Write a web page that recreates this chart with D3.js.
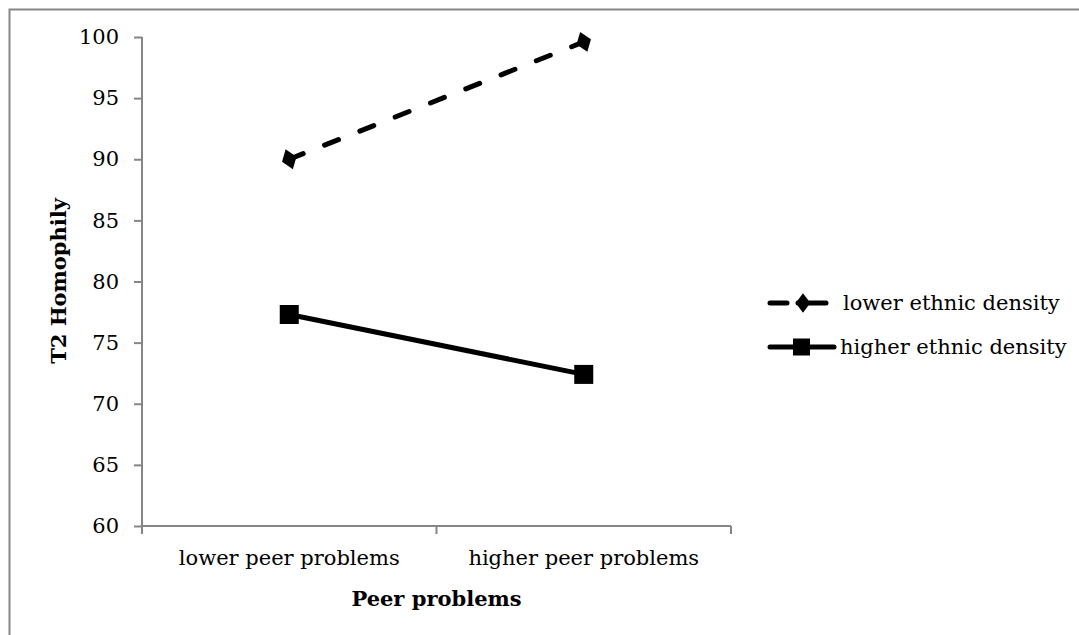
<!DOCTYPE html>
<html>
<head>
<meta charset="utf-8">
<script src="https://cdn.jsdelivr.net/npm/d3@7"></script>
<style>
  body { margin: 0; background: #fff; }
  svg text { font-family: "DejaVu Serif", "Liberation Serif", serif; }
</style>
</head>
<body>
<svg id="chart" width="1079" height="635"></svg>
<script>
// data
var categories = ["lower peer problems", "higher peer problems"];
var lowerDensity = [90.0, 99.6];
var higherDensity = [77.3, 72.4];
var seriesNames = ["lower ethnic density", "higher ethnic density"];
var yTicks = [60, 65, 70, 75, 80, 85, 90, 95, 100];

(function () {
  var svg = d3.select("#chart");
  var fontFamily = '"DejaVu Serif", "Liberation Serif", serif';
  var fontSize = "21px";

  // outer chart frame (runs off the bottom / right of the picture)
  svg.append("rect")
    .attr("x", 9.5).attr("y", 9.5)
    .attr("width", 1080).attr("height", 640)
    .attr("fill", "none")
    .attr("stroke", "#868686")
    .attr("stroke-width", 2);

  var plotLeft = 142, plotRight = 731, plotTop = 37, plotBottom = 526;

  var x = d3.scaleBand().domain(categories).range([plotLeft, plotRight]);
  var y = d3.scaleLinear().domain([60, 100]).range([plotBottom, plotTop]);

  var axisColor = "#868686";

  // y axis
  var yAxis = svg.append("g")
    .attr("transform", "translate(" + plotLeft + ",0)")
    .call(d3.axisLeft(y).tickValues(yTicks).tickSize(8).tickPadding(15));
  // x axis
  var xAxis = svg.append("g")
    .attr("transform", "translate(0," + plotBottom + ")")
    .call(d3.axisBottom(x).tickSize(0).tickPadding(24));

  [yAxis, xAxis].forEach(function (g) {
    g.selectAll("path").attr("stroke", axisColor).attr("stroke-width", 2);
    g.selectAll("line").attr("stroke", axisColor).attr("stroke-width", 2);
    g.selectAll("text").attr("fill", "#000").style("font-size", fontSize)
      .style("font-family", fontFamily);
  });
  yAxis.select(".domain").attr("d", "M0," + plotTop + "V" + plotBottom);
  xAxis.select(".domain").attr("d", "M" + plotLeft + ",0H" + plotRight);

  // category boundary ticks on x axis
  var bounds = [plotLeft, x(categories[1]), plotRight];
  svg.append("g").selectAll("line").data(bounds).enter().append("line")
    .attr("x1", d => d).attr("x2", d => d)
    .attr("y1", plotBottom).attr("y2", plotBottom + 8)
    .attr("stroke", axisColor).attr("stroke-width", 2);

  var cx = c => x(c) + x.bandwidth() / 2;

  var line = d3.line()
    .x((d, i) => cx(categories[i]))
    .y(d => y(d));

  // lower ethnic density (dashed, diamonds)
  svg.append("path")
    .datum(lowerDensity)
    .attr("d", line)
    .attr("fill", "none")
    .attr("stroke", "#000")
    .attr("stroke-width", 5)
    .attr("stroke-linecap", "round")
    .attr("stroke-dasharray", "15,23");

  var diamond = d3.symbol().type(d3.symbolDiamond).size(130);
  svg.append("g").selectAll("path").data(lowerDensity).enter().append("path")
    .attr("d", diamond)
    .attr("transform", (d, i) => "translate(" + cx(categories[i]) + "," + y(d) + ") rotate(-20) scale(1.25,1)")
    .attr("fill", "#000");

  // higher ethnic density (solid, squares)
  svg.append("path")
    .datum(higherDensity)
    .attr("d", line)
    .attr("fill", "none")
    .attr("stroke", "#000")
    .attr("stroke-width", 5);

  svg.append("g").selectAll("rect").data(higherDensity).enter().append("rect")
    .attr("x", (d, i) => cx(categories[i]) - 9.5)
    .attr("y", d => y(d) - 9.5)
    .attr("width", 19).attr("height", 19)
    .attr("fill", "#000");

  // axis titles
  svg.append("text")
    .attr("x", (plotLeft + plotRight) / 2).attr("y", 606)
    .attr("text-anchor", "middle")
    .style("font-size", fontSize).style("font-weight", "bold")
    .text("Peer problems");

  svg.append("text")
    .attr("transform", "translate(66," + 281 + ") rotate(-90)")
    .attr("text-anchor", "middle")
    .style("font-size", fontSize).style("font-weight", "bold")
    .text("T2 Homophily");

  // legend
  var legend = svg.append("g");
  var legY = [303, 347];
  legend.append("line")
    .attr("x1", 770).attr("x2", 826).attr("y1", legY[0]).attr("y2", legY[0])
    .attr("stroke", "#000").attr("stroke-width", 5).attr("stroke-linecap", "round")
    .attr("stroke-dasharray", "17,11,40");
  legend.append("path")
    .attr("d", d3.symbol().type(d3.symbolDiamond).size(110))
    .attr("transform", "translate(803," + legY[0] + ") scale(1.3,1)");
  legend.append("line")
    .attr("x1", 770).attr("x2", 834).attr("y1", legY[1]).attr("y2", legY[1])
    .attr("stroke", "#000").attr("stroke-width", 5).attr("stroke-linecap", "round");
  legend.append("rect")
    .attr("x", 793).attr("y", legY[1] - 8.5).attr("width", 17).attr("height", 17);

  legend.selectAll("text").data(seriesNames).enter().append("text")
    .attr("x", (d, i) => i === 0 ? 843 : 840)
    .attr("y", (d, i) => legY[i] + 7)
    .style("font-size", fontSize)
    .text(d => d);
})();
</script>
</body>
</html>
